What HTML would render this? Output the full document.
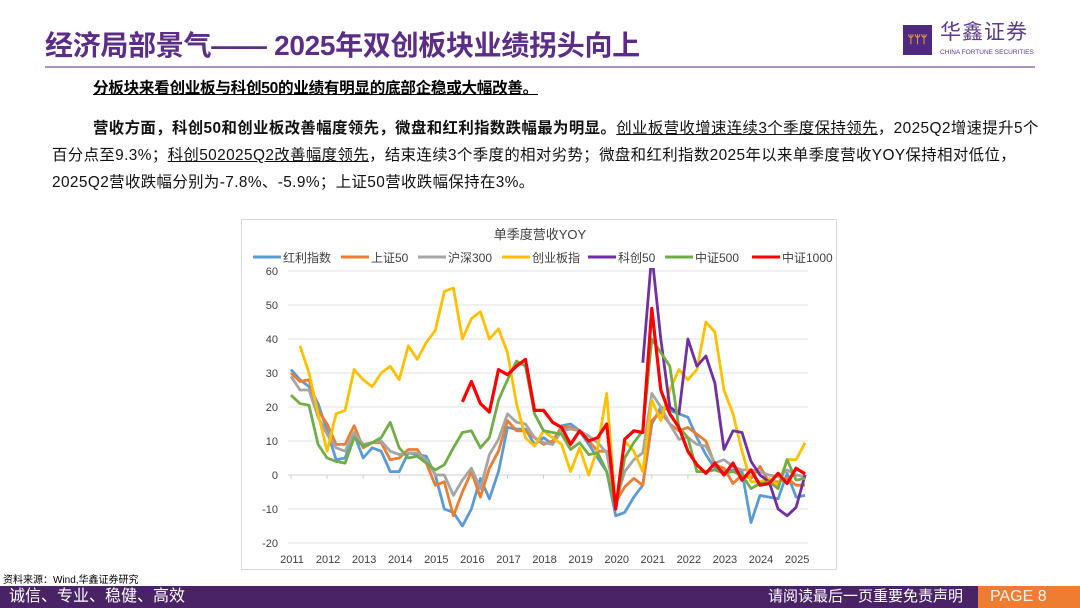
<!DOCTYPE html>
<html><head><meta charset="utf-8">
<style>
body{margin:0;width:1080px;height:608px;overflow:hidden;background:#fff;font-family:"Liberation Sans","Noto Sans CJK SC",sans-serif;position:relative}
.abs{position:absolute}
</style></head><body>
<div class="abs" style="left:45px;top:24px;font-size:28px;font-weight:bold;color:#5c2d87;letter-spacing:-0.3px;white-space:nowrap">经济局部景气—— 2025年双创板块业绩拐头向上</div>
<div class="abs" style="left:903px;top:25px;width:135px;height:32px">
  <div style="position:absolute;left:0;top:0;width:29px;height:30px;background:#4e2a7e;color:#f3a23a;font-size:11px;font-weight:bold;text-align:center;line-height:30px">ᛘᛘᛘ</div>
  <div style="position:absolute;left:37px;top:-4px;font-size:21px;line-height:24px;color:#5c3a8c;letter-spacing:1px;white-space:nowrap">华鑫证券</div>
  <div style="position:absolute;left:37px;top:24px;font-size:6.5px;color:#5c3a8c;white-space:nowrap">CHINA FORTUNE SECURITIES</div>
</div>
<div class="abs" style="left:45px;top:66px;width:990px;height:2px;background:#a893bd"></div>
<div class="abs" style="left:93px;top:76px;font-size:15.6px;font-weight:bold;text-decoration:underline;white-space:nowrap;letter-spacing:-0.3px">分板块来看创业板与科创50的业绩有明显的底部企稳或大幅改善。</div>
<div class="abs" style="left:52px;top:115px;font-size:15.4px;line-height:27px;color:#111;white-space:nowrap;letter-spacing:0.4px">
<span style="padding-left:41px"></span><b>营收方面，科创50和创业板改善幅度领先，微盘和红利指数跌幅最为明显。</b><u>创业板营收增速连续3个季度保持领先</u>，2025Q2增速提升5个<br>百分点至9.3%；<u>科创502025Q2改善幅度领先</u>，结束连续3个季度的相对劣势；微盘和红利指数2025年以来单季度营收YOY保持相对低位，<br>2025Q2营收跌幅分别为-7.8%、-5.9%；上证50营收跌幅保持在3%。</div>

<div class="abs" style="left:241px;top:219px;width:596px;height:351px;border:1px solid #d9d9d9;box-sizing:border-box"></div>
<svg class="abs" style="left:0;top:0" width="1080" height="608" id="chart">
<defs><clipPath id="plotclip"><rect x="280" y="268" width="540" height="290"/></clipPath></defs>
</svg>

<div class="abs" style="left:3px;top:571px;font-size:10px;white-space:nowrap">资料来源：Wind,华鑫证券研究</div>
<div class="abs" style="left:0;top:586px;width:1080px;height:22px;background:#4a2367"></div>
<div class="abs" style="left:9px;top:586px;font-size:16px;line-height:22px;color:#fff;white-space:nowrap">诚信、专业、稳健、高效</div>
<div class="abs" style="left:768px;top:586px;font-size:15px;line-height:22px;color:#fff;white-space:nowrap">请阅读最后一页重要免责声明</div>
<div class="abs" style="left:978px;top:586px;width:102px;height:22px;background:#ee7d31;color:#f4f4f4;font-size:16px;line-height:22px;padding-left:12px;box-sizing:border-box">PAGE 8</div>

<script>
const years=["2011","2012","2013","2014","2015","2016","2017","2018","2019","2020","2021","2022","2023","2024","2025"];
const yTicks=[60,50,40,30,20,10,0,-10,-20];
const seriesNames=["红利指数","上证50","沪深300","创业板指","科创50","中证500","中证1000"];
const seriesColors=["#5b9bd5","#ed7d31","#a5a5a5","#ffc000","#7030a0","#70ad47","#ff0000"];
const hongli=[31,28,26,21,13,4.5,5,12,5,8,7,1,1,6.5,6,5.5,0,-10,-11,-15,-10,-1,-7,1,14,13.5,13.5,9,11,9,14.5,15,13,9,5,1,-12,-11,-6.5,-3,15,20,19,18,17,11,6,2,1,1.5,1,-14,-6,-6.5,-7,0.5,-6.5,-6];
const sz50=[30,27.5,28,19,15,9,9,14.5,8,9.5,9.5,4.5,5,7.5,7.5,3.5,-3,-2,-12,-5,1,-6.5,2,7,16,13,13,11,9,10,14,14,13,10,7,7,-8,-3.5,-1,-3,16,18.5,15,13,14,12,10,3,2,-2.5,0,-1,2.5,-2,-2,-1,-3,-3];
const hs300=[29,25,25,17,12,8,7,12.5,9,9.5,10,7,6,6.5,6.5,4.5,0,0,-6,-1.5,2,-4,6,10.5,18,15.5,15,11,9.5,9,13,13.5,13,11.5,9.5,6.5,-8,1,4.5,6.5,24,20,15,10.5,11,9,8.5,3.5,4.5,2.5,1.5,1.5,1,0,-0.5,1.5,0,-0.5];
const cyb=[null,38,30,18,7,18,19,31,28,26,30,32,28,38,34,39,42.5,54,55,40,46,48,40,43,36,21,11,8.5,13,11,9,1,8,0,8,24,-10,10,7,1,22,16,25,31,28,31,45,42,25,18,7,-2,-2,-1,-3,4.5,4.5,9.5];
const kc50=[null,null,null,null,null,null,null,null,null,null,null,null,null,null,null,null,null,null,null,null,null,null,null,null,null,null,null,null,null,null,null,null,null,null,null,null,null,null,null,33,65,40,20,18,40,32,35,27,7.5,13,12.5,4,0,-2,-10,-12,-9.5,0];
const zz500=[23.5,21,20.5,9,5,4,3.5,11,8.5,9.5,11,15.5,8,5,5.5,3.5,1.5,3,8,12.5,13,8,11,22,28,33.5,32,18,13,12.5,12,7.5,9.5,6,6.5,1,-10,5,9.5,13,40,36,32,14,11,1,1,1.5,0.5,1,0,-4,-2.5,-2,-4,4.5,-1.5,-1];
const zz1000=[null,null,null,null,null,null,null,null,null,null,null,null,null,null,null,null,null,null,null,21.5,27.5,21,18.5,31,29.5,32,34,19,19,15.5,14,9,13,10,11,15,-10,10.5,13,12.5,49,25,18,14,7,3,0.5,3.5,0,3.5,-1.5,1.5,-3,-2.5,0.5,-2.5,2,0.3];
const allSeries=[hongli,sz50,hs300,cyb,kc50,zz500,zz1000];

const NS="http://www.w3.org/2000/svg";
const svg=document.getElementById('chart');
const X0=291,QW=9.02,YZERO=475,YPX=3.4,L=288,R=808;
const xq=i=>X0+QW*i;
const yv=v=>YZERO-v*YPX;
function mk(tag,attrs){const e=document.createElementNS(NS,tag);for(const k in attrs)e.setAttribute(k,attrs[k]);svg.appendChild(e);return e;}

const t=mk('text',{x:540,y:239,'text-anchor':'middle','font-size':13,fill:'#404040'});


t.textContent='单季度营收YOY';

yTicks.forEach(v=>{
  const g=mk('line',{x1:L,x2:R,y1:yv(v),y2:yv(v),stroke:v===0?'#d0d0d0':'#e0e0e0','stroke-width':1});
  
  
  const lb=mk('text',{x:278,y:yv(v)+4,'text-anchor':'end','font-size':11,fill:'#404040'});
  
  
  lb.textContent=v;
});
years.forEach((yr,k)=>{
  const x=xq(k*4);
  const tk=mk('line',{x1:x,x2:x,y1:YZERO,y2:YZERO+4,stroke:'#d0d0d0'});
  
  
  const lb=mk('text',{x:x+1,y:563,'text-anchor':'middle','font-size':11,fill:'#404040'});
  
  
  lb.textContent=yr;
});
allSeries.forEach((s,si)=>{
  let d='',pen=false;
  s.forEach((v,i)=>{if(v===null){pen=false;return;}d+=(pen?'L':'M')+xq(i).toFixed(1)+','+yv(v).toFixed(1);pen=true;});
  const p=mk('path',{d:d,fill:'none',stroke:seriesColors[si],'stroke-width':si===6?3.2:2.8,'stroke-linejoin':'round','clip-path':'url(#plotclip)'});
  
  
});
const legX=[253,341,418,502,588,665,752];
seriesNames.forEach((n,i)=>{
  const ln=mk('line',{x1:legX[i],x2:legX[i]+28,y1:257,y2:257,stroke:seriesColors[i],'stroke-width':3});
  
  
  const tx=mk('text',{x:legX[i]+30,y:262,'font-size':12,fill:'#404040'});
  
  
  tx.textContent=n;
});
</script>
</body></html>
